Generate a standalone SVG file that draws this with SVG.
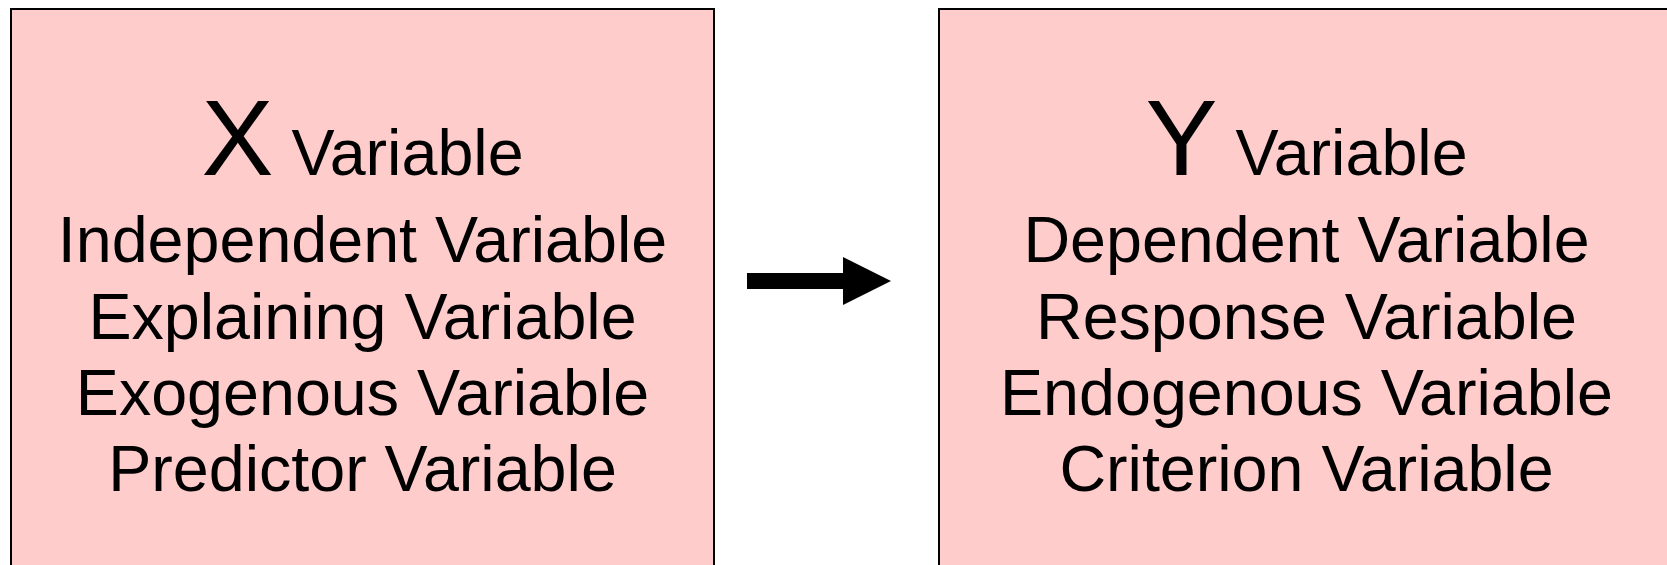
<svg xmlns="http://www.w3.org/2000/svg" width="1667" height="565" viewBox="0 0 1667 565">
<style>
.box{fill:#ffcccc;stroke:#000;stroke-width:2}
.t{font-family:"Liberation Sans",Arial,sans-serif;font-size:64.6px;fill:#000;text-anchor:middle}
.big{font-size:108px}
</style>
<rect width="1667" height="565" fill="#fff"/>
<g id="node-x">
<rect class="box" x="11" y="9" width="703" height="570"/>
<text class="t" x="362.5" y="175"><tspan class="big">X</tspan> Variable</text>
<text class="t" x="362.5" y="262">Independent Variable</text>
<text class="t" x="362.5" y="338.5">Explaining Variable</text>
<text class="t" x="362.5" y="414.5">Exogenous Variable</text>
<text class="t" x="362.5" y="491">Predictor Variable</text>
</g>
<g id="node-y">
<rect class="box" x="939" y="9" width="740" height="570"/>
<text class="t" x="1306.5" y="175"><tspan class="big">Y</tspan> Variable</text>
<text class="t" x="1306.5" y="262">Dependent Variable</text>
<text class="t" x="1306.5" y="338.5">Response Variable</text>
<text class="t" x="1306.5" y="414.5">Endogenous Variable</text>
<text class="t" x="1306.5" y="491">Criterion Variable</text>
</g>
<g id="connectors">
<polygon points="747,273 843,273 843,257 891,281 843,305 843,289 747,289" fill="#000"/>
</g>
</svg>
